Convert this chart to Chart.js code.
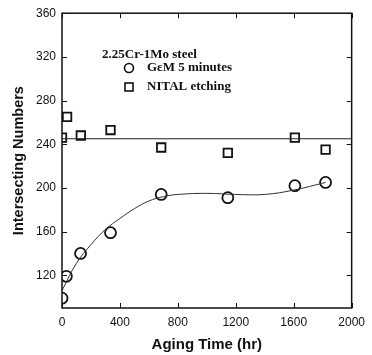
<!DOCTYPE html>
<html>
<head>
<meta charset="utf-8">
<script src="https://cdn.jsdelivr.net/npm/chart.js@4/dist/chart.umd.min.js"></script>
<style>
  html, body { margin: 0; padding: 0; background: #fff; }
  #wrap { width: 372px; height: 355px; }
</style>
</head>
<body>
<div id="wrap"><canvas id="chart" width="372" height="355"></canvas></div>
<script>
// values
const gemHours = [0, 30, 128, 335, 685, 1145, 1608, 1820];
const gemCounts = [99, 119, 140, 159, 194, 191, 202, 205];

const nitalHours = [0, 35, 130, 335, 685, 1145, 1608, 1820];
const nitalCounts = [246, 265, 248, 253, 237, 232, 246, 235];

// fitted curve through the GEM points
const fitHours = [0, 100, 200, 300, 400, 500, 600, 700, 800, 1000, 1200, 1400, 1600, 1820];
const fitCounts = [106, 131, 148, 162, 172, 181, 188, 192, 194, 195, 194, 194, 198, 205];

// mean level of the NITAL points
const nitalMean = 245;

const xTicks = [0, 400, 800, 1200, 1600, 2000];
const yTicks = [120, 160, 200, 240, 280, 320, 360];

const toXY = (xs, ys) => xs.map((x, i) => ({ x: x, y: ys[i] }));

// little ticks pointing into the plot, on all four sides
const innerTicks = {
    id: 'innerTicks',
    afterDraw(chart) {
        const c = chart.ctx, a = chart.chartArea;
        const xs = chart.scales.x, ys = chart.scales.y;
        c.save();
        c.strokeStyle = '#111';
        c.lineWidth = 1;
        c.beginPath();
        xTicks.forEach(v => {
            const px = Math.round(xs.getPixelForValue(v)) + 0.5;
            c.moveTo(px, a.bottom); c.lineTo(px, a.bottom - 5);
            c.moveTo(px, a.top); c.lineTo(px, a.top + 5);
        });
        yTicks.forEach(v => {
            const py = Math.round(ys.getPixelForValue(v)) + 0.5;
            c.moveTo(a.left, py); c.lineTo(a.left + 5, py);
            c.moveTo(a.right, py); c.lineTo(a.right - 5, py);
        });
        c.stroke();
        c.lineWidth = 1.5;
        c.strokeRect(a.left, a.top, a.right - a.left, a.bottom - a.top);
        c.restore();
    }
};

// legend block in the upper left of the plot
const boxLegend = {
    id: 'boxLegend',
    afterDraw(chart) {
        const c = chart.ctx;
        c.save();
        c.fillStyle = '#111';
        c.strokeStyle = '#111';
        c.lineWidth = 1.6;
        c.font = 'bold 13px "Liberation Serif", "Times New Roman", serif';
        c.textBaseline = 'middle';
        c.fillText('2.25Cr-1Mo steel', 102, 55);
        c.beginPath();
        c.arc(129, 68, 4.5, 0, Math.PI * 2);
        c.stroke();
        c.fillText('G\u03b5M 5 minutes', 147, 68);
        c.strokeRect(125, 83, 8, 8);
        c.fillText('NITAL etching', 147, 87);
        c.restore();
    }
};

const ctx = document.getElementById('chart').getContext('2d');
new Chart(ctx, {
    type: 'scatter',
    data: {
        datasets: [
            {
                label: 'fit',
                type: 'line',
                data: toXY(fitHours, fitCounts),
                borderColor: '#333',
                borderWidth: 1,
                pointRadius: 0,
                tension: 0.4,
                fill: false
            },
            {
                label: 'mean',
                type: 'line',
                data: [{ x: 0, y: nitalMean }, { x: 2000, y: nitalMean }],
                borderColor: '#222',
                borderWidth: 1.2,
                pointRadius: 0,
                fill: false
            },
            {
                label: 'G\u03b5M 5 minutes',
                data: toXY(gemHours, gemCounts),
                pointStyle: 'circle',
                pointRadius: 5.5,
                pointBorderWidth: 1.8,
                pointBackgroundColor: '#fff',
                pointBorderColor: '#111'
            },
            {
                label: 'NITAL etching',
                data: toXY(nitalHours, nitalCounts),
                pointStyle: 'rect',
                pointRadius: 6,
                pointBorderWidth: 1.8,
                pointBackgroundColor: '#fff',
                pointBorderColor: '#111'
            }
        ]
    },
    options: {
        responsive: false,
        animation: false,
        layout: { padding: { left: 0, top: 13, right: 12, bottom: 0 } },
        plugins: {
            legend: { display: false },
            tooltip: { enabled: false }
        },
        scales: {
            x: {
                type: 'linear',
                min: 0,
                max: 2000,
                afterBuildTicks: s => { s.ticks = xTicks.map(v => ({ value: v })); },
                afterFit: s => { s.height = 47; },
                grid: { display: false, drawTicks: false },
                border: { display: false },
                ticks: {
                    color: '#111',
                    padding: 7,
                    callback: v => String(v),
                    font: { family: '"Liberation Sans", Arial, sans-serif', size: 12 }
                },
                title: {
                    display: true,
                    text: 'Aging Time (hr)',
                    color: '#111',
                    padding: { top: 0, bottom: 1 },
                    font: { family: '"Liberation Sans", Arial, sans-serif', size: 15, weight: 'bold' }
                }
            },
            y: {
                type: 'linear',
                min: 90,
                max: 360,
                afterBuildTicks: s => { s.ticks = yTicks.map(v => ({ value: v })); },
                afterFit: s => { s.width = 62; },
                grid: { display: false, drawTicks: false },
                border: { display: false },
                ticks: {
                    color: '#111',
                    padding: 6,
                    callback: v => String(v),
                    font: { family: '"Liberation Sans", Arial, sans-serif', size: 12 }
                },
                title: {
                    display: true,
                    text: 'Intersecting Numbers',
                    color: '#111',
                    padding: { top: 10, bottom: 0 },
                    font: { family: '"Liberation Sans", Arial, sans-serif', size: 14.5, weight: 'bold' }
                }
            }
        }
    },
    plugins: [innerTicks, boxLegend]
});
</script>
</body>
</html>
